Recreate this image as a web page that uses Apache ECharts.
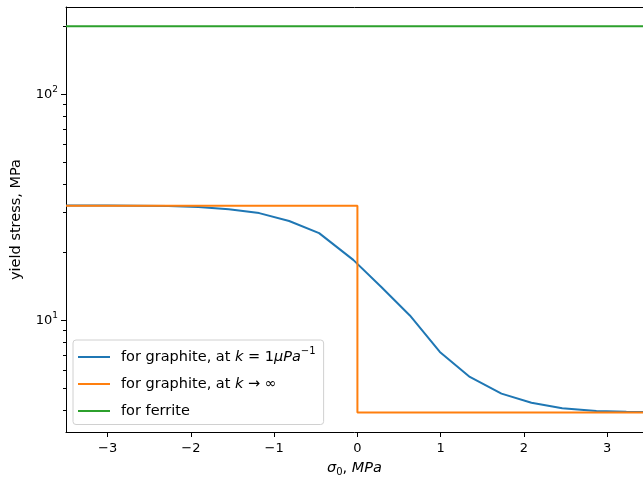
<!DOCTYPE html>
<html>
<head>
<meta charset="utf-8">
<script src="https://cdn.jsdelivr.net/npm/echarts@6/dist/echarts.min.js"></script>
<style>
html, body { margin: 0; padding: 0; background: #fff; }
#main { width: 643px; height: 483px; }
</style>
</head>
<body>
<div id="main"></div>
<script>
// sigma_0, MPa
const sigmaX = [-3.5, -3.0, -2.64, -2.27, -1.91, -1.545, -1.18, -0.82, -0.46, -0.05, 0.29, 0.63, 0.99, 1.35, 1.73, 2.09, 2.46, 2.87, 3.23, 3.5];
// for graphite, k = 1 uPa^-1
const graphiteK1 = [32.2, 32.2, 32.1, 32.0, 31.7, 31.0, 29.8, 27.5, 24.3, 18.5, 14.0, 10.5, 7.24, 5.61, 4.73, 4.31, 4.08, 3.96, 3.93, 3.92];
// for graphite, k -> inf (step)
const stepX = [-3.5, 0, 0, 3.5];
const graphiteInf = [32.1, 32.1, 3.9, 3.9];
// for ferrite
const ferriteX = [-3.5, 3.5];
const ferrite = [200, 200];

const xTicks = [-3, -2, -1, 0, 1, 2, 3];
const yMajorTicks = [10, 100];
const yMinorTicks = [4, 5, 6, 7, 8, 9, 20, 30, 40, 50, 60, 70, 80, 90, 200];

const zip = function(xs, ys) {
    let out = [];
    for (let i = 0; i < xs.length; i++) {
        out.push([xs[i], ys[i]]);
    }
    return out;
};

const FONT = 'DejaVu Sans';
const names = ['k1', 'kinf', 'ferrite'];
const X_MIN = -3.5, X_MAX = 3.43;   // right side of the picture is cut off
const Y_MIN = 3.2, Y_MAX = 243.6;

let myChart = echarts.init(document.getElementById('main'));

let option = {
    animation: false,
    backgroundColor: '#fff',
    color: ['#1f77b4', '#ff7f0e', '#2ca02c'],
    textStyle: { fontFamily: FONT },
    grid: {
        left: 66,
        top: 7,
        right: 0,
        bottom: 51,
        show: false
    },
    legend: {
        orient: 'vertical',
        left: 73,
        top: 340,
        padding: [6, 8, 6, 5],
        itemGap: 12,
        itemWidth: 32,
        itemHeight: 2,
        icon: 'rect',
        backgroundColor: 'rgba(255,255,255,0.8)',
        borderColor: '#d0d0d0',
        borderWidth: 1,
        borderRadius: 3,
        data: names,
        formatter: function(name) {
            if (name === 'k1') {
                return '{n1|for graphite, at }{i1|k}{n1| = 1}{i1|μPa}{s|−1}';
            }
            if (name === 'kinf') {
                return '{n|for graphite, at }{i|k}{n| → ∞}';
            }
            return '{n|for ferrite}';
        },
        textStyle: {
            fontFamily: FONT,
            fontSize: 14.5,
            color: '#000',
            padding: [0, 0, 0, 6],
            rich: {
                n1: { fontFamily: FONT, fontSize: 14.5, color: '#000', lineHeight: 22 },
                i1: { fontFamily: FONT, fontSize: 14.5, color: '#000', lineHeight: 22, fontStyle: 'italic' },
                s: { fontFamily: FONT, fontSize: 10, color: '#000', lineHeight: 12, verticalAlign: 'top' },
                n: { fontFamily: FONT, fontSize: 14.5, color: '#000', lineHeight: 14 },
                i: { fontFamily: FONT, fontSize: 14.5, color: '#000', lineHeight: 14, fontStyle: 'italic' }
            }
        }
    },
    xAxis: [{
        type: 'value',
        min: X_MIN,
        max: X_MAX,
        name: '{i|σ}{sub|0}{n|, }{i|MPa}',
        nameLocation: 'middle',
        nameGap: 27,
        nameTextStyle: {
            rich: {
                i: { fontFamily: FONT, fontSize: 14.5, color: '#000', fontStyle: 'italic', lineHeight: 18 },
                n: { fontFamily: FONT, fontSize: 14.5, color: '#000', lineHeight: 18 },
                sub: { fontFamily: FONT, fontSize: 10, color: '#000', lineHeight: 10, verticalAlign: 'bottom' }
            }
        },
        splitLine: { show: false },
        axisLine: { show: true, onZero: false, lineStyle: { color: '#000', width: 1 } },
        axisTick: { show: true, length: 5, customValues: xTicks, lineStyle: { color: '#000', width: 1 } },
        axisLabel: {
            customValues: xTicks,
            margin: 10,
            fontFamily: FONT,
            fontSize: 13,
            color: '#000',
            formatter: function(v) {
                return String(v).replace('-', '\u2212');
            }
        }
    }, {
        // top spine
        type: 'value',
        position: 'top',
        min: X_MIN,
        max: X_MAX,
        splitLine: { show: false },
        axisLine: { show: true, onZero: false, lineStyle: { color: '#000', width: 1 } },
        axisTick: { show: false },
        axisLabel: { show: false }
    }],
    yAxis: [{
        type: 'log',
        logBase: 10,
        min: Y_MIN,
        max: Y_MAX,
        name: 'yield stress, MPa',
        nameLocation: 'middle',
        nameGap: 42,
        nameRotate: 90,
        nameTextStyle: { fontFamily: FONT, fontSize: 14.5, color: '#000' },
        splitLine: { show: false },
        axisLine: { show: true, onZero: false, lineStyle: { color: '#000', width: 1 } },
        axisTick: { show: true, length: 5, customValues: yMajorTicks, lineStyle: { color: '#000', width: 1 } },
        axisLabel: {
            customValues: yMajorTicks,
            margin: 8,
            formatter: function(v) {
                return '{b|10}{s|' + Math.round(Math.log10(v)) + '}';
            },
            rich: {
                b: { fontFamily: FONT, fontSize: 13, color: '#000', lineHeight: 18 },
                s: { fontFamily: FONT, fontSize: 9, color: '#000', lineHeight: 10, verticalAlign: 'top' }
            }
        }
    }, {
        // minor ticks only
        type: 'log',
        logBase: 10,
        min: Y_MIN,
        max: Y_MAX,
        position: 'left',
        splitLine: { show: false },
        axisLine: { show: false, onZero: false },
        axisTick: { show: true, length: 3, customValues: yMinorTicks, lineStyle: { color: '#000', width: 1 } },
        axisLabel: { show: false }
    }],
    series: [{
        name: 'k1',
        type: 'line',
        showSymbol: false,
        symbol: 'none',
        lineStyle: { width: 2 },
        data: zip(sigmaX, graphiteK1)
    }, {
        name: 'kinf',
        type: 'line',
        showSymbol: false,
        symbol: 'none',
        lineStyle: { width: 2 },
        data: zip(stepX, graphiteInf)
    }, {
        name: 'ferrite',
        type: 'line',
        showSymbol: false,
        symbol: 'none',
        lineStyle: { width: 2 },
        data: zip(ferriteX, ferrite)
    }]
};

myChart.setOption(option);

window.addEventListener("resize", function() {
    myChart.resize();
});
</script>
</body>
</html>
